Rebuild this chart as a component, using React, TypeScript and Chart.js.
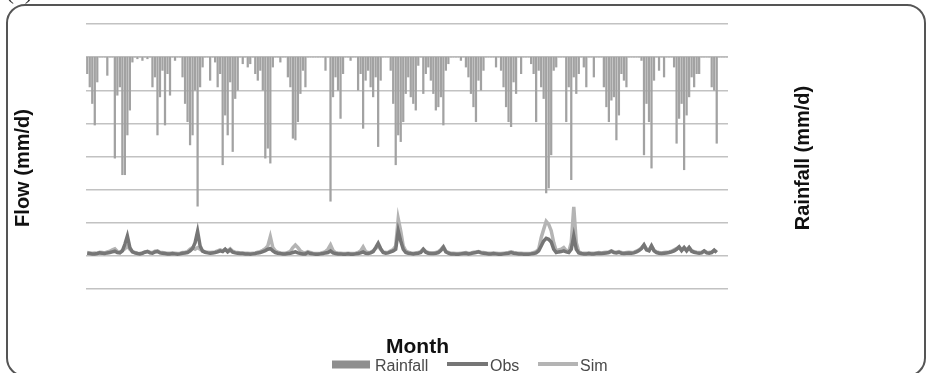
import React, { useEffect, useRef } from "react";
import { Chart, registerables } from "chart.js";

Chart.register(...registerables);

// Daily rainfall (mm/d), plotted on the reversed right axis
const rainfall = [
  10, 18, 28, 41, 15, 0, 0, 0, 11, 0, 0, 61, 23, 18, 71, 71,
  47, 32, 3, 0, 1, 0, 2, 0, 1, 0, 18, 12, 47, 24, 8, 41,
  10, 23, 0, 2, 0, 0, 12, 28, 39, 53, 47, 20, 90, 18, 6, 0,
  0, 14, 0, 3, 18, 10, 65, 35, 47, 15, 57, 25, 20, 0, 4, 0,
  6, 4, 0, 10, 14, 8, 20, 61, 55, 64, 6, 0, 0, 3, 0, 0,
  12, 18, 49, 50, 39, 22, 8, 18, 0, 0, 0, 0, 0, 0, 0, 8,
  0, 87, 24, 12, 20, 37, 10, 0, 0, 2, 0, 0, 20, 10, 43, 14,
  8, 18, 24, 12, 54, 14, 0, 0, 0, 8, 28, 65, 47, 51, 39, 22,
  12, 24, 28, 32, 5, 0, 22, 10, 6, 14, 22, 32, 30, 24, 41, 8,
  4, 0, 0, 0, 0, 2, 0, 6, 12, 22, 30, 39, 14, 20, 8, 0,
  0, 0, 0, 6, 0, 8, 18, 30, 39, 42, 15, 22, 0, 10, 0, 0,
  0, 4, 10, 39, 8, 18, 25, 82, 79, 59, 8, 6, 0, 0, 0, 39,
  18, 74, 12, 22, 10, 0, 6, 18, 0, 0, 12, 0, 0, 0, 18, 30,
  39, 26, 24, 50, 35, 10, 14, 18, 0, 0, 0, 0, 0, 2, 59, 28,
  39, 67, 14, 0, 8, 0, 12, 0, 0, 0, 6, 52, 37, 28, 68, 35,
  24, 12, 18, 10, 10, 0, 0, 0, 0, 18, 20, 52, 0, 0, 0, 0,
];

// Observed flow (mm/d)
const obs = [
  0.8, 0.7, 0.6, 0.6, 0.7, 0.9, 0.8, 0.7, 0.9, 1.0, 1.2, 1.4, 1.0, 0.9, 1.5, 3.5,
  6.0, 2.5, 1.2, 0.9, 0.7, 0.6, 0.8, 1.1, 1.3, 0.9, 0.8, 1.2, 1.3, 0.9, 0.8, 0.7,
  0.6, 0.6, 0.7, 0.6, 0.5, 0.6, 0.8, 0.9, 1.0, 1.5, 2.2, 4.0, 7.4, 3.0, 1.4, 1.1,
  0.9, 0.8, 0.9, 1.0, 1.2, 1.5, 1.3, 2.0, 1.2, 1.8, 1.1, 0.9, 0.8, 0.7, 0.7, 0.6,
  0.6, 0.5, 0.6, 0.7, 0.9, 1.0, 1.3, 1.6, 2.0, 2.2, 1.5, 1.0, 0.8, 0.7, 0.6, 0.6,
  0.7, 0.8, 1.0, 1.2, 0.9, 0.7, 0.6, 0.6, 1.0, 0.7, 0.6, 0.5, 0.5, 0.6, 0.7, 0.9,
  1.0, 1.5, 0.9, 0.7, 0.6, 0.6, 0.5, 0.5, 0.6, 0.5, 0.5, 0.6, 0.7, 0.9, 1.2, 0.8,
  0.7, 0.9, 1.3, 2.5, 3.8, 2.2, 1.0, 0.8, 0.9, 1.2, 1.5, 2.0, 7.5, 4.5, 2.0, 1.0,
  0.8, 0.7, 0.6, 0.7, 0.8, 1.0, 2.0, 1.1, 0.8, 0.7, 0.7, 0.8, 1.0, 1.6, 2.6, 1.2,
  0.8, 0.6, 0.6, 0.5, 0.5, 0.6, 0.7, 0.8, 0.6, 0.7, 0.9, 1.0, 1.2, 0.9, 0.8, 0.7,
  0.6, 0.6, 0.7, 0.6, 0.5, 0.5, 0.6, 0.7, 0.8, 1.0, 0.8, 0.7, 0.6, 0.6, 0.5, 0.5,
  0.5, 0.6, 0.7, 0.9, 1.5, 3.0, 4.5, 5.3, 5.0, 4.2, 2.0, 1.0, 1.2, 1.3, 1.5, 1.2,
  1.0, 2.0, 6.0, 2.0, 0.9, 0.7, 0.6, 0.6, 0.7, 0.6, 0.6, 0.7, 0.8, 0.7, 0.8, 0.9,
  1.0, 1.4, 1.0, 0.9, 1.1, 0.8, 0.7, 0.8, 0.9, 0.8, 0.9, 1.2, 1.6, 2.2, 3.3, 1.8,
  1.5, 3.0, 1.5, 1.0, 0.8, 0.7, 0.8, 0.9, 1.0, 1.2, 1.5, 2.0, 2.7, 1.6, 2.5, 1.5,
  2.5, 1.4, 1.1, 0.9, 0.8, 0.9, 1.5, 0.9, 0.8, 1.0, 1.7, 1.0, null, null, null, null,
];

// Simulated flow (mm/d)
const sim = [
  1.0, 0.9, 0.8, 0.9, 0.8, 1.1, 1.0, 0.9, 1.2, 1.4, 1.8, 2.1, 1.3, 1.1, 1.6, 2.2,
  3.0, 2.0, 1.3, 1.0, 0.8, 0.7, 0.9, 1.2, 1.4, 1.1, 1.0, 1.4, 1.5, 1.1, 1.0, 0.9,
  0.8, 0.8, 0.9, 0.8, 0.7, 0.8, 1.0, 1.1, 1.3, 2.0, 2.5, 2.0, 2.5, 2.0, 1.5, 1.2,
  1.1, 1.0, 1.1, 1.2, 1.5, 1.8, 1.5, 2.0, 1.5, 2.1, 1.4, 1.1, 1.0, 0.9, 0.9, 0.8,
  0.8, 0.7, 0.8, 0.9, 1.1, 1.3, 1.7, 2.2, 3.0, 5.8, 2.5, 1.5, 1.1, 0.9, 0.8, 0.8,
  1.0, 1.4, 2.5, 3.3, 2.5, 1.5, 1.0, 0.9, 1.3, 1.0, 0.8, 0.7, 0.7, 0.8, 1.0, 1.3,
  2.0, 3.3, 1.6, 1.0, 0.8, 0.8, 0.7, 0.7, 0.8, 0.7, 0.7, 0.8, 1.0, 1.5, 2.7, 1.3,
  1.0, 1.1, 1.5, 2.2, 3.0, 2.0, 1.2, 1.0, 1.1, 1.5, 1.9, 3.0, 11.2, 7.5, 3.0, 1.5,
  1.1, 0.9, 0.8, 0.9, 1.0, 1.3, 2.0, 1.3, 1.0, 0.9, 0.9, 1.0, 1.3, 1.9, 2.8, 1.4,
  1.0, 0.8, 0.8, 0.7, 0.7, 0.8, 0.9, 1.0, 0.8, 0.9, 1.1, 1.2, 1.3, 1.1, 1.0, 0.9,
  0.8, 0.8, 0.9, 0.8, 0.7, 0.7, 0.8, 0.9, 1.0, 1.2, 1.0, 0.9, 0.8, 0.8, 0.7, 0.7,
  0.7, 0.8, 1.0, 1.3, 2.0, 5.5, 8.0, 10.4, 9.5, 7.6, 4.0, 1.5, 1.8, 2.0, 2.5, 1.6,
  1.3, 4.0, 14.8, 4.0, 1.2, 0.9, 0.8, 0.8, 0.9, 0.8, 0.8, 0.9, 1.0, 0.9, 1.0, 1.1,
  1.2, 1.5, 1.2, 1.1, 1.3, 1.0, 0.9, 1.0, 1.1, 1.0, 1.1, 1.4, 1.8, 2.4, 3.3, 2.0,
  1.7, 3.0, 1.7, 1.2, 1.0, 0.9, 1.0, 1.1, 1.2, 1.4, 1.8, 2.2, 2.7, 1.8, 2.5, 1.8,
  2.5, 1.6, 1.3, 1.1, 1.0, 1.1, 1.5, 1.1, 1.0, 1.2, 1.7, 1.2, null, null, null, null,
];

const days = rainfall.map((_, i) => String(i + 1));

const flowMin = -10;
const flowMax = 70;
const flowStep = 10;
const rainMin = -20;
const rainMax = 140;

const seriesNames = ["Rainfall", "Obs", "Sim"];
const rainColor = "#a2a2a2";
const rainLegendColor = "#8e8e8e";
const obsColor = "#767676";
const simColor = "#b4b4b4";

const FONT = "'Liberation Sans', Arial, sans-serif";

const framePlugin = {
  id: "framePlugin",
  afterDraw(chart: any) {
    const ctx = chart.ctx as CanvasRenderingContext2D;
    ctx.save();

    // rounded frame
    const x0 = 7, y0 = 5, x1 = 925, y1 = 376, r = 18;
    ctx.beginPath();
    ctx.moveTo(x0 + r, y0);
    ctx.lineTo(x1 - r, y0);
    ctx.arcTo(x1, y0, x1, y0 + r, r);
    ctx.lineTo(x1, y1 - r);
    ctx.arcTo(x1, y1, x1 - r, y1, r);
    ctx.lineTo(x0 + r, y1);
    ctx.arcTo(x0, y1, x0, y1 - r, r);
    ctx.lineTo(x0, y0 + r);
    ctx.arcTo(x0, y0, x0 + r, y0, r);
    ctx.closePath();
    ctx.strokeStyle = "#555";
    ctx.lineWidth = 2;
    ctx.stroke();

    // panel label, mostly cut off at the top
    ctx.fillStyle = "#333";
    ctx.font = "24px 'Liberation Serif', serif";
    ctx.textAlign = "left";
    ctx.textBaseline = "alphabetic";
    ctx.fillText("(a)", 6, -1);

    // axis titles
    ctx.fillStyle = "#111";
    ctx.font = `bold 20px ${FONT}`;
    ctx.textAlign = "center";
    ctx.textBaseline = "middle";
    ctx.save();
    ctx.translate(23, 168);
    ctx.rotate(-Math.PI / 2);
    ctx.fillText("Flow (mm/d)", 0, 0);
    ctx.restore();
    ctx.save();
    ctx.translate(803, 158);
    ctx.rotate(-Math.PI / 2);
    ctx.fillText("Rainfall (mm/d)", 0, 0);
    ctx.restore();

    ctx.font = `bold 21px ${FONT}`;
    ctx.textBaseline = "alphabetic";
    ctx.fillText("Month", 417.5, 353);

    // legend
    ctx.font = `16px ${FONT}`;
    ctx.textAlign = "left";
    ctx.fillStyle = rainLegendColor;
    ctx.fillRect(332, 360.5, 38, 8);
    ctx.fillStyle = "#4a4a4a";
    ctx.fillText(seriesNames[0], 375, 370.5);

    ctx.lineWidth = 4;
    ctx.strokeStyle = obsColor;
    ctx.beginPath();
    ctx.moveTo(447, 364);
    ctx.lineTo(488, 364);
    ctx.stroke();
    ctx.fillText(seriesNames[1], 490, 370.5);

    ctx.strokeStyle = simColor;
    ctx.beginPath();
    ctx.moveTo(538, 364);
    ctx.lineTo(578, 364);
    ctx.stroke();
    ctx.fillText(seriesNames[2], 580, 370.5);

    ctx.restore();
  },
};

export default function App() {
  const ref = useRef<HTMLCanvasElement | null>(null);

  useEffect(() => {
    if (!ref.current) return;
    const chart = new Chart(ref.current, {
      data: {
        labels: days,
        datasets: [
          {
            type: "line",
            label: seriesNames[1],
            data: obs,
            borderColor: obsColor,
            borderWidth: 3.5,
            pointRadius: 0,
            tension: 0,
            yAxisID: "flow",
            order: 0,
            spanGaps: false,
          },
          {
            type: "line",
            label: seriesNames[2],
            data: sim,
            borderColor: simColor,
            borderWidth: 3.5,
            pointRadius: 0,
            tension: 0,
            yAxisID: "flow",
            order: 1,
            spanGaps: false,
          },
          {
            type: "bar",
            label: seriesNames[0],
            data: rainfall,
            backgroundColor: rainColor,
            borderWidth: 0,
            barThickness: 1.6,
            yAxisID: "rain",
            order: 2,
          },
        ],
      } as any,
      options: {
        responsive: false,
        animation: false,
        events: [],
        layout: { padding: { left: 86, right: 201, top: 24, bottom: 84 } },
        plugins: {
          legend: { display: false },
          tooltip: { enabled: false },
          title: { display: false },
        },
        scales: {
          x: {
            type: "category",
            display: false,
            offset: true,
            grid: { display: false },
          },
          flow: {
            type: "linear",
            position: "left",
            min: flowMin,
            max: flowMax,
            ticks: { display: false, stepSize: flowStep },
            grid: { color: "#c2c2c2", lineWidth: 1.5, drawTicks: false },
            border: { display: false },
          },
          rain: {
            type: "linear",
            position: "right",
            reverse: true,
            min: rainMin,
            max: rainMax,
            display: false,
          },
        },
      } as any,
      plugins: [framePlugin],
    });
    return () => chart.destroy();
  }, []);

  return (
    <div style={{ position: "absolute", left: 0, top: 0, width: 929, height: 373, background: "#fff" }}>
      <canvas ref={ref} width={929} height={373} style={{ display: "block" }} />
    </div>
  );
}
